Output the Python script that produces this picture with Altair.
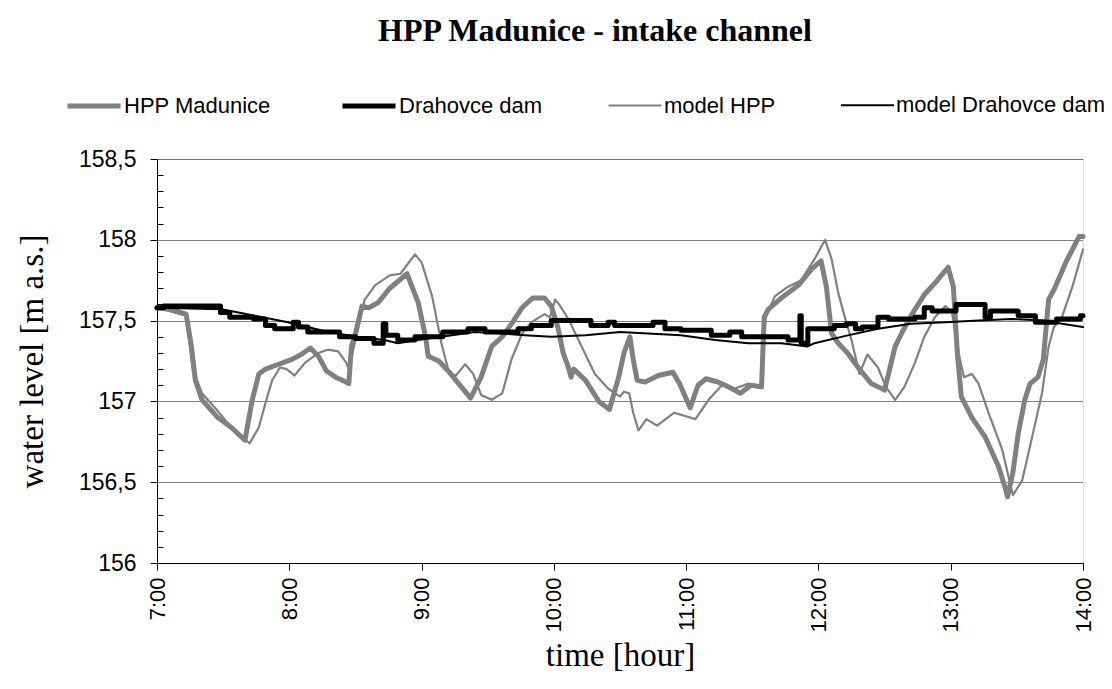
import altair as alt
import pandas as pd

SERIES = ["HPP Madunice", "Drahovce dam", "model HPP", "model Drahovce dam"]

# HPP Madunice (measured)
hpp_t = [7.00, 7.10, 7.22, 7.26, 7.29, 7.34, 7.46, 7.56, 7.665, 7.72, 7.77, 7.82, 7.92, 8.02, 8.09,
         8.16, 8.22, 8.28, 8.35, 8.43, 8.45, 8.47, 8.50, 8.55, 8.60, 8.67, 8.76, 8.89, 8.975, 9.03,
         9.05, 9.13, 9.20, 9.28, 9.37, 9.45, 9.53, 9.61, 9.68, 9.76, 9.84, 9.93, 9.98, 10.03, 10.07,
         10.11, 10.13, 10.15, 10.24, 10.34, 10.42, 10.49, 10.53, 10.575, 10.60, 10.63, 10.69, 10.79,
         10.90, 10.95, 11.03, 11.09, 11.15, 11.24, 11.32, 11.41, 11.49, 11.57, 11.59, 11.62, 11.72,
         11.85, 11.95, 12.02, 12.06, 12.10, 12.15, 12.22, 12.30, 12.40, 12.50, 12.58, 12.64, 12.73,
         12.80, 12.90, 12.98, 13.02, 13.05, 13.08, 13.16, 13.26, 13.36, 13.41, 13.43, 13.47, 13.51,
         13.56, 13.60, 13.66, 13.70, 13.74, 13.78, 13.87, 13.97, 14.00]
hpp_v = [157.58, 157.57, 157.54, 157.34, 157.13, 157.01, 156.90, 156.84, 156.76, 157.01, 157.17, 157.20,
         157.23, 157.26, 157.29, 157.33, 157.28, 157.19, 157.15, 157.12, 157.11, 157.34, 157.42, 157.59,
         157.58, 157.61, 157.70, 157.79, 157.61, 157.40, 157.28, 157.25, 157.19, 157.11, 157.02, 157.15,
         157.34, 157.40, 157.48, 157.58, 157.64, 157.64, 157.59, 157.46, 157.30, 157.21, 157.15, 157.20,
         157.13, 157.00, 156.95, 157.15, 157.30, 157.40, 157.26, 157.13, 157.12, 157.16, 157.18, 157.11,
         156.96, 157.10, 157.14, 157.12, 157.09, 157.05, 157.10, 157.09, 157.52, 157.57, 157.64, 157.72,
         157.82, 157.87, 157.71, 157.42, 157.36, 157.30, 157.21, 157.11, 157.07, 157.34, 157.44, 157.57,
         157.66, 157.75, 157.83, 157.71, 157.30, 157.03, 156.90, 156.78, 156.60, 156.47, 156.41, 156.56,
         156.80, 157.01, 157.11, 157.15, 157.26, 157.63, 157.69, 157.86, 158.02, 158.02]

# Drahovce dam (measured, stepped)
dam_t = [7.00, 7.05, 7.48, 7.55, 7.73, 7.82, 7.89, 8.03, 8.07, 8.14, 8.38, 8.50, 8.64, 8.71, 8.73,
         8.82, 8.95, 9.16, 9.35, 9.48, 9.73, 9.83, 9.98, 10.28, 10.41, 10.46, 10.75, 10.84, 10.96,
         11.19, 11.33, 11.42, 11.77, 11.86, 11.87, 11.92, 12.12, 12.21, 12.28, 12.33, 12.45, 12.53,
         12.73, 12.80, 12.86, 13.04, 13.26, 13.30, 13.51, 13.64, 13.80, 13.98, 14.00]
dam_v = [157.58, 157.59, 157.55, 157.52, 157.51, 157.47, 157.45, 157.49, 157.46, 157.43, 157.40, 157.39,
         157.36, 157.48, 157.41, 157.38, 157.40, 157.43, 157.45, 157.43, 157.45, 157.47, 157.50, 157.47,
         157.49, 157.47, 157.49, 157.45, 157.44, 157.41, 157.43, 157.40, 157.38, 157.53, 157.36, 157.45,
         157.47, 157.48, 157.45, 157.46, 157.52, 157.51, 157.52, 157.58, 157.56, 157.60, 157.52, 157.56,
         157.53, 157.49, 157.51, 157.53, 157.53]

# model HPP
mhpp_t = [7.00, 7.22, 7.27, 7.34, 7.46, 7.57, 7.70, 7.77, 7.82, 7.87, 7.93, 7.98, 8.04, 8.12, 8.22,
          8.29, 8.37, 8.43, 8.45, 8.50, 8.57, 8.65, 8.76, 8.84, 8.95, 9.00, 9.08, 9.15, 9.21, 9.26,
          9.33, 9.39, 9.45, 9.53, 9.61, 9.68, 9.76, 9.83, 9.93, 9.97, 10.01, 10.04, 10.11, 10.21, 10.31,
          10.41, 10.50, 10.53, 10.57, 10.60, 10.64, 10.70, 10.78, 10.91, 11.07, 11.17, 11.27, 11.37,
          11.47, 11.57, 11.60, 11.67, 11.77, 11.87, 11.97, 12.05, 12.10, 12.15, 12.20, 12.25, 12.31,
          12.37, 12.45, 12.51, 12.58, 12.65, 12.73, 12.80, 12.88, 12.96, 13.01, 13.06, 13.10, 13.16,
          13.21, 13.29, 13.39, 13.47, 13.54, 13.61, 13.69, 13.74, 13.78, 13.84, 13.92, 14.00]
mhpp_v = [157.58, 157.53, 157.20, 157.05, 156.94, 156.83, 156.74, 156.84, 156.99, 157.13, 157.21, 157.20,
          157.16, 157.24, 157.30, 157.32, 157.31, 157.24, 157.20, 157.38, 157.63, 157.72, 157.78, 157.79,
          157.91, 157.86, 157.65, 157.36, 157.17, 157.16, 157.23, 157.17, 157.04, 157.01, 157.05, 157.26,
          157.42, 157.49, 157.54, 157.52, 157.63, 157.60, 157.51, 157.34, 157.17, 157.08, 157.03, 157.06,
          157.05, 156.93, 156.82, 156.89, 156.85, 156.93, 156.89, 157.01, 157.10, 157.08, 157.11, 157.09,
          157.52, 157.65, 157.71, 157.75, 157.88, 158.00, 157.88, 157.67, 157.52, 157.38, 157.17, 157.29,
          157.21, 157.09, 157.01, 157.09, 157.24, 157.40, 157.52, 157.59, 157.55, 157.30, 157.15, 157.17,
          157.11, 156.92, 156.70, 156.42, 156.51, 156.76, 157.05, 157.34, 157.46, 157.52, 157.71, 157.94]

# model Drahovce dam
mdam_t = [7.00, 7.49, 7.74, 7.99, 8.24, 8.50, 8.72, 8.82, 8.97, 9.23, 9.40, 9.61, 9.78, 9.98, 10.24,
          10.50, 10.96, 11.22, 11.47, 11.72, 11.92, 11.97, 12.23, 12.45, 12.70, 12.96, 13.21, 13.46,
          13.71, 13.84, 14.00]
mdam_v = [157.58, 157.57, 157.53, 157.49, 157.44, 157.40, 157.38, 157.36, 157.38, 157.41, 157.43, 157.42,
          157.41, 157.40, 157.41, 157.43, 157.41, 157.38, 157.36, 157.36, 157.34, 157.36, 157.41, 157.45,
          157.48, 157.49, 157.50, 157.51, 157.50, 157.48, 157.46]

y_major = [156, 156.5, 157, 157.5, 158, 158.5]
y_minor = [round(156 + 0.1 * i, 1) for i in range(26) if i % 5 != 0]
x_ticks = [7, 8, 9, 10, 11, 12, 13, 14]

rows = []
for name, ts, vs in [(SERIES[0], hpp_t, hpp_v), (SERIES[1], dam_t, dam_v),
                     (SERIES[2], mhpp_t, mhpp_v), (SERIES[3], mdam_t, mdam_v)]:
    for i, (t, v) in enumerate(zip(ts, vs)):
        rows.append({"series": name, "t": t, "v": v, "i": i})
df = pd.DataFrame(rows)

SANS = "Liberation Sans"
SERIF = "Liberation Serif"

legend = alt.Legend(
    title=None, orient="none", legendX=-92, legendY=-82, direction="horizontal",
    symbolType="stroke", symbolSize=2809, labelFont=SANS, labelFontSize=22,
    labelColor="#000", labelOffset=1, columnPadding=61, labelLimit=400,
)
color = alt.Color("series:N", sort=SERIES,
                  scale=alt.Scale(type="ordinal", domain=SERIES,
                                  range=["#808080", "#000000", "#808080", "#000000"]),
                  legend=legend)
swidth = alt.StrokeWidth("series:N", sort=SERIES,
                         scale=alt.Scale(type="ordinal", domain=SERIES, range=[5.0, 5.0, 2.2, 2.0]),
                         legend=legend)

xenc = alt.X("t:Q", scale=alt.Scale(domain=[7, 14], nice=False, zero=False),
             axis=alt.Axis(values=x_ticks, labelExpr="datum.value + ':00'", labelAngle=270,
                           grid=False, tickSize=7, tickColor="#000", domainColor="#000",
                           labelFont=SANS, labelFontSize=22, labelColor="#000", labelPadding=7,
                           title="time [hour]", titleFont=SERIF, titleFontSize=33,
                           titleFontWeight="normal", titleColor="#000", titlePadding=7))

yscale = alt.Scale(domain=[156, 158.5], nice=False, zero=False)
y_main = alt.Y("v:Q", scale=yscale,
               axis=alt.Axis(values=y_major,
                             labelExpr="replace(format(datum.value, '.1~f'), '.', ',')",
                             grid=True, gridColor="#000", gridDash=[1, 1], gridWidth=1,
                             tickSize=7, tickColor="#000", domainColor="#000",
                             labelFont=SANS, labelFontSize=23, labelColor="#000", labelPadding=14,
                             title="water level [m a.s.]", titleFont=SERIF, titleFontSize=33,
                             titleFontWeight="normal", titleColor="#000", titlePadding=29,
                             orient="left"))
y_minor_enc = alt.Y("v:Q", scale=yscale,
                    axis=alt.Axis(values=y_minor, labels=False, domain=False, grid=False,
                                  tickSize=6, tickColor="#000", offset=-6, title=None,
                                  orient="left"))
y_none = alt.Y("v:Q", scale=yscale, axis=None)

base = alt.Chart(df)

def layer(name, yenc, interp="linear"):
    return base.transform_filter(alt.datum.series == name).mark_line(
        interpolate=interp, strokeCap="round", strokeJoin="round"
    ).encode(x=xenc, y=yenc, color=color, strokeWidth=swidth, order="i:Q")

chart = alt.layer(
    layer(SERIES[0], y_main),
    layer(SERIES[2], y_minor_enc),
    layer(SERIES[1], y_none, "step-after"),
    layer(SERIES[3], y_none),
).resolve_axis(y="independent").properties(
    width=926, height=404,
    autosize=alt.AutoSizeParams(type="none"),
    padding={"left": 149, "top": 151, "right": 21, "bottom": 124},
    title=alt.Title("HPP Madunice - intake channel", font=SERIF, fontSize=32,
                    fontWeight="bold", color="#000", anchor="middle", dx=-25, offset=29),
).configure_view(stroke="#000", strokeWidth=1.2).configure(background="white")

chart.save("out.html", embed_options={"renderer": "svg", "actions": False})
